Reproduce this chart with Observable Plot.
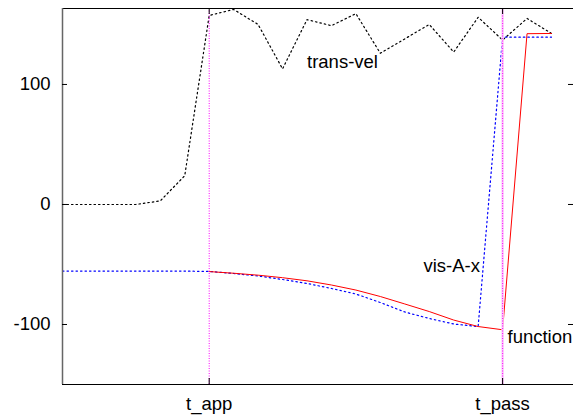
<!DOCTYPE html>
<html><head><meta charset="utf-8">
<script src="https://cdn.jsdelivr.net/npm/d3@7"></script>
<script src="https://cdn.jsdelivr.net/npm/@observablehq/plot@0.6"></script>
<style>body{margin:0;background:#fff}</style>
</head><body><div id="chart"></div>
<script>
// frame index along the x axis
const frames = [0,1,2,3,4,5,6,7,8,9,10,11,12,13,14,15,16,17,18,19,20];
// series values
const transVel = [0,0,0,0,3,24,157.5,162.5,150,113,154,149,159,126,138,150,127,156,137,155,142.5];
const visAx = [-55.5,-55.5,-55.5,-55.5,-55.5,-55.5,-55.8,-57.5,-59.6,-62.5,-65.8,-70,-74.6,-81.7,-89.6,-95,-99.6,-101.7,139.4,139.4,139.4];
const fnVals = [null,null,null,null,null,null,-55.9,-57.3,-58.9,-61,-63.6,-67.1,-71.3,-76.7,-82.9,-89.2,-96.3,-101.7,-104.4,142.3,142.5];
// axis ticks
const yTicks = [-100, 0, 100];
const xTickPos = [6, 18];
const xTickLabels = ["t_app", "t_pass"];
// series labels (text, x frame, y value)
const labelText = ["trans-vel", "vis-A-x", "function"];
const labelX = [10, 14.76, 18.2];
const labelY = [119, -51, -110.7];

const W = 573, H = 415, mL = 62, mR = 0, mT = 8, mB = 31;
const plotW = W - mL - mR, plotH = H - mT - mB;
const xDomain = [0, 20.9], yDomain = [-150, 163.3];

const rows = frames.map((f, i) => ({f, trans: transVel[i], vis: visAx[i], fn: fnVals[i]}));
const labels = labelText.map((t, i) => ({t, x: labelX[i], y: labelY[i]}));

const chart = Plot.plot({
  width: W, height: H,
  marginLeft: mL, marginRight: mR, marginTop: mT, marginBottom: mB,
  style: {fontFamily: "'Liberation Sans', Arial, sans-serif", fontSize: "18.5px", color: "#000", background: "#fff"},
  x: {domain: xDomain},
  y: {domain: yDomain},
  marks: [
    Plot.lineY(rows, {x: "f", y: "trans", stroke: "#000", strokeWidth: 1.2, strokeDasharray: "1.5,3"}),
    Plot.lineY(rows, {x: "f", y: "vis", stroke: "#0000ff", strokeWidth: 1.2, strokeDasharray: "1.5,3"}),
    Plot.lineY(rows.filter(d => d.fn != null), {x: "f", y: "fn", stroke: "#ff0000", strokeWidth: 1}),
    Plot.ruleX([xTickPos[1]], {stroke: "#fbcdfb", strokeWidth: 2.5}),
    Plot.ruleX(xTickPos, {stroke: "#ff00ff", strokeWidth: 1, strokeDasharray: "1,1.5"}),
    // border
    Plot.ruleY([yDomain[0]], {stroke: "#000"}),
    Plot.ruleY([yDomain[1]], {stroke: "#000"}),
    Plot.ruleX([xDomain[0]], {stroke: "#666", strokeWidth: 1.5}),
    // inward ticks
    Plot.tickY(yTicks, {y: d => d, stroke: "#000", insetRight: plotW - 5}),
    Plot.tickY(yTicks, {y: d => d, stroke: "#000", insetLeft: plotW - 5}),
    Plot.tickX(xTickPos, {x: d => d, stroke: "#000", insetTop: plotH - 6}),
    Plot.tickX(xTickPos, {x: d => d, stroke: "#000", insetBottom: plotH - 6}),
    Plot.axisY({ticks: yTicks, tickSize: 0, tickPadding: 12, tickFormat: d => String(d), label: null, fontSize: 18.5}),
    Plot.axisX({ticks: xTickPos, tickSize: 0, tickPadding: 12, tickFormat: d => xTickLabels[xTickPos.indexOf(d)], label: null, fontSize: 18.5}),
    Plot.text(labels, {x: "x", y: "y", text: "t", textAnchor: "start", fontSize: 18.5, fill: "#000"})
  ]
});
document.getElementById("chart").appendChild(chart);
</script>
</body></html>
